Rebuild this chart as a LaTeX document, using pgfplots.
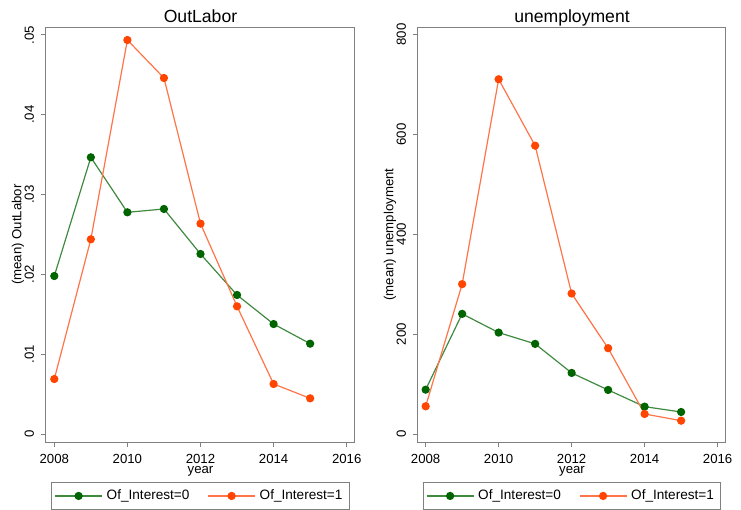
\documentclass[border=0pt]{standalone}
\usepackage{pgfplots}
\pgfplotsset{compat=1.18}
\usepackage{pgfplotstable}
\usepackage{fontspec}
\setmainfont{Liberation Sans}
\definecolor{gmk}{HTML}{006400}
\definecolor{gln}{HTML}{3F8A3F}
\definecolor{omk}{HTML}{FF4500}
\definecolor{oln}{HTML}{FF7448}
\definecolor{frame}{HTML}{808080}

\pgfplotstableread{
year g o
2008 0.0198 0.00689
2009 0.03467 0.0244
2010 0.02778 0.04937
2011 0.0282 0.04461
2012 0.02256 0.02636
2013 0.01742 0.0160
2014 0.01378 0.00627
2015 0.01132 0.00447
}\outlabor

\pgfplotstableread{
year g o
2008 88.8 55.5
2009 240.6 300.1
2010 203.1 710.4
2011 180.5 577.4
2012 122.3 281.3
2013 88.2 171.8
2014 54.8 40.1
2015 44.1 26.7
}\unemp

\pgfplotsset{
  stata/.style={
    scale only axis,
    anchor=south west,
    axis line style={frame, line width=0.5pt},
    tick style={frame, line width=0.5pt},
    tick align=outside,
    major tick length=2.5pt,
    xtick pos=bottom, ytick pos=left,
    scaled y ticks=false, scaled x ticks=false,
    xtick={2008,2010,2012,2014,2016},
    xticklabels={2008,2010,2012,2014,2016},
    tick label style={font=\fontsize{6.6}{8}\selectfont},
    yticklabel style={rotate=90, anchor=south, xshift=0pt},
    label style={font=\fontsize{6.6}{8}\selectfont},
    xlabel={year},
    xlabel style={at={(axis description cs:0.5,-0.071)}, anchor=center},
    every axis title shift=0pt,
    title style={font=\fontsize{8.8}{10}\selectfont, at={(axis description cs:0.5,1)}, anchor=base, yshift=2.2pt},
    legend style={at={(0.5,-0.130)}, anchor=center, legend columns=2, draw=frame,
      line width=0.5pt, inner sep=1.5pt,
      font=\fontsize{6.8}{8}\selectfont,
      /tikz/every even column/.append style={column sep=7pt}},
    legend image code/.code={\draw[mark repeat=2,mark phase=2,##1] plot coordinates {(0pt,0pt) (11.75pt,0pt) (23.5pt,0pt)};},
    legend cell align=left,
    clip=false,
  },
  gser/.style={color=gln, line width=0.6pt, mark=*, mark size=1.75pt, mark options={fill=gmk, draw=gmk}},
  oser/.style={color=oln, line width=0.6pt, mark=*, mark size=1.75pt, mark options={fill=omk, draw=omk}},
}

\begin{document}
\begin{tikzpicture}[x=1pt,y=1pt]
\useasboundingbox (0,0) rectangle (370.5,255);
\begin{axis}[stata,
  at={(23pt,34pt)}, width=154.5pt, height=207.5pt,
  xmin=2007.773, xmax=2016.227, ymin=-0.001, ymax=0.051,
  ytick={0,0.01,0.02,0.03,0.04,0.05},
  yticklabels={0,.01,.02,.03,.04,.05},
  title={OutLabor},
  ylabel={(mean) OutLabor},
  ylabel style={at={(axis description cs:-0.0906,0.5)}, anchor=center, rotate=0},
]
\addplot[gser] table[x=year,y=g] {\outlabor};
\addlegendentry{Of\_Interest=0}
\addplot[oser] table[x=year,y=o] {\outlabor};
\addlegendentry{Of\_Interest=1}
\end{axis}
\begin{axis}[stata,
  at={(209pt,34pt)}, width=154pt, height=207.5pt,
  xmin=2007.79, xmax=2016.23, ymin=-16, ymax=815,
  ytick={0,200,400,600,800},
  yticklabels={0,200,400,600,800},
  title={unemployment},
  ylabel={(mean) unemployment},
  ylabel style={at={(axis description cs:-0.0909,0.5)}, anchor=center, rotate=0},
]
\addplot[gser] table[x=year,y=g] {\unemp};
\addlegendentry{Of\_Interest=0}
\addplot[oser] table[x=year,y=o] {\unemp};
\addlegendentry{Of\_Interest=1}
\end{axis}
\end{tikzpicture}
\end{document}
